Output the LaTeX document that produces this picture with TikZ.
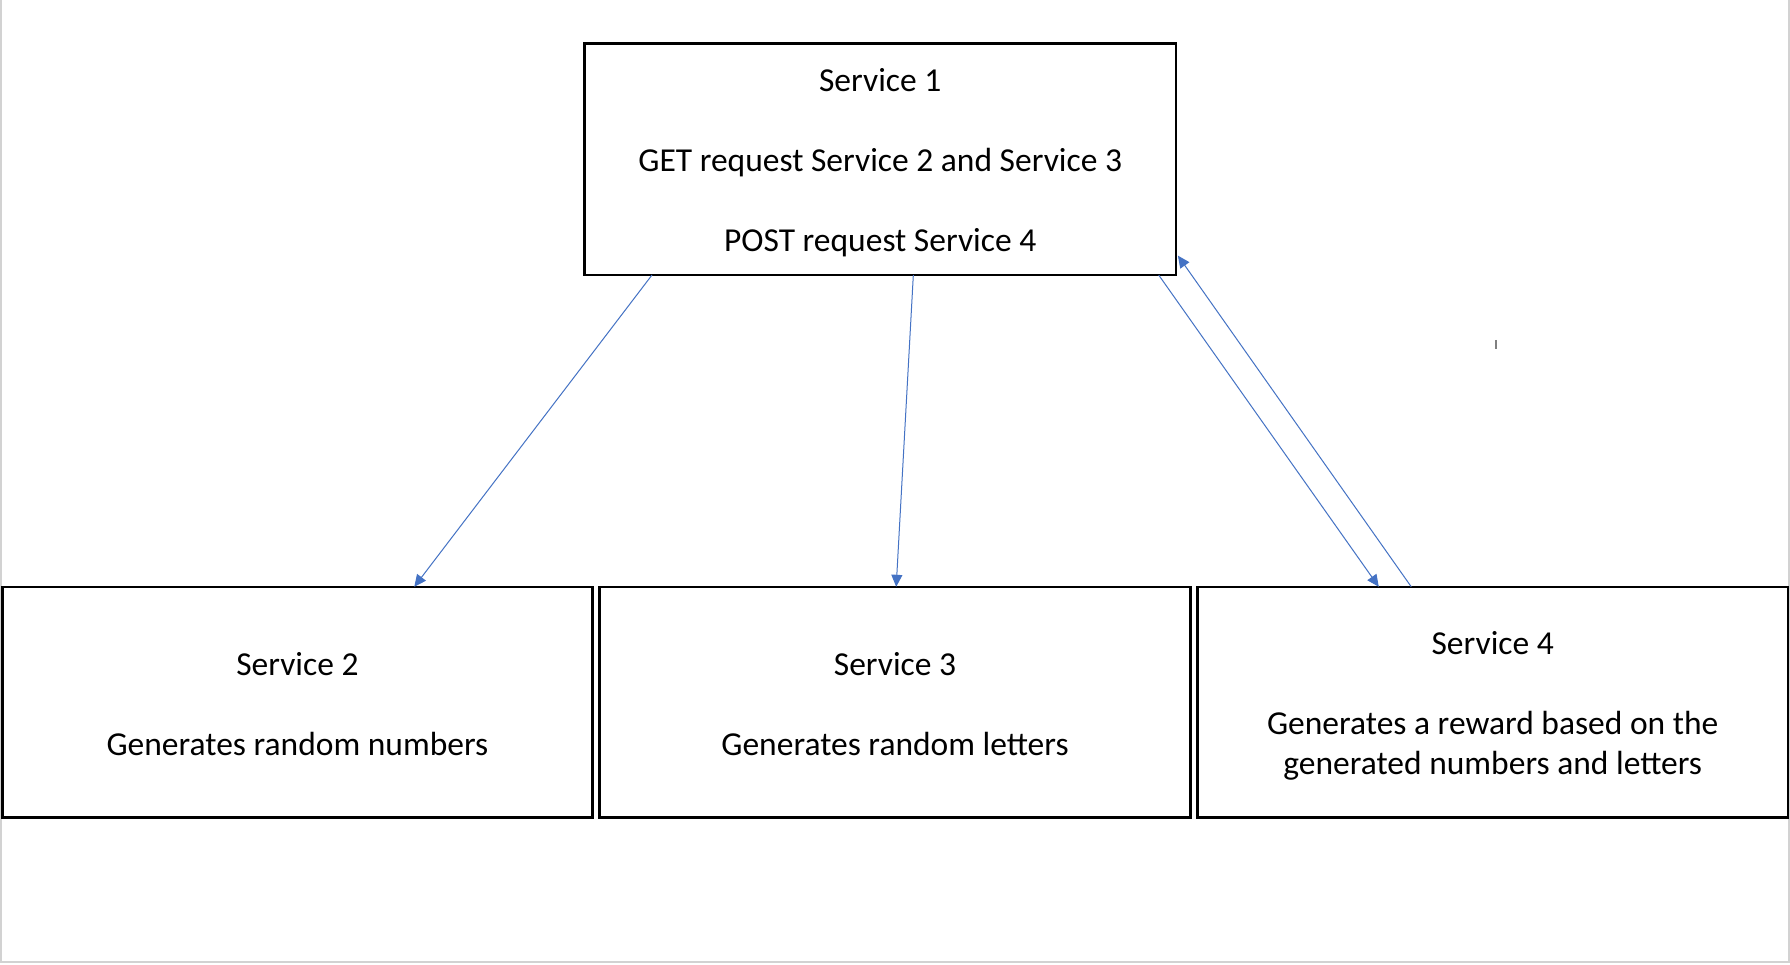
\documentclass[tikz,border=0pt]{standalone}
\usepackage{fontspec}
\setmainfont{Carlito}
\usetikzlibrary{arrows.meta,calc}
\definecolor{arrowblue}{RGB}{68,114,196}
\definecolor{framegray}{RGB}{210,210,210}
\tikzset{
  svcbox/.style={draw=black, line width=2.5pt, rectangle, inner sep=0pt, outer sep=0pt,
    minimum height=230.6pt},
  svctext/.style={align=center, inner sep=0pt, font={\fontsize{33.5}{40}\selectfont}},
  flow/.style={draw=arrowblue, line width=1pt, -{Triangle[length=12pt,width=11pt]}},
  framel/.style={draw=framegray, line width=2pt},
  cursor/.style={draw=gray, line width=1.5pt}
}
\begin{document}
\begin{tikzpicture}[x=1pt,y=-1pt]
\useasboundingbox (0,0) rectangle (1790,965);
\fill[white] (0,0) rectangle (1790,965);
\draw[framel] (1,0) -- (1,962) -- (1789,962) -- (1789,0);

\node[svcbox, minimum width=591.4pt, minimum height=231.7pt] (s1) at (880.2,159.25) {};
\node[svcbox, minimum width=590.2pt] (s2) at (297.4,702.1) {};
\node[svcbox, minimum width=591.4pt] (s3) at (895,702.1) {};
\node[svcbox, minimum width=590.3pt] (s4) at (1492.7,702.1) {};

\node[svctext] (t1) at ($(s1.center)+(0,3)$)
  {Service 1\\[40pt]GET request Service 2 and Service 3\\[40pt]POST request Service 4};
\node[svctext] (t2) at ($(s2.center)+(0,2)$)
  {Service 2\\[40pt]Generates random numbers};
\node[svctext] (t3) at ($(s3.center)+(0,2)$)
  {Service 3\\[40pt]Generates random letters};
\node[svctext] (t4) at ($(s4.center)+(0,4)$)
  {Service 4\\[40pt]Generates a reward based on the\\generated numbers and letters};

\draw[flow] ($(s1.south west)!0.114!(s1.south east)$) -- ($(s2.north west)!0.698!(s2.north east)$);
\draw[flow] ($(s1.south west)!0.556!(s1.south east)$) -- ($(s3.north west)!0.502!(s3.north east)$);
\draw[flow] ($(s1.south west)!0.971!(s1.south east)$) -- ($(s4.north west)!0.307!(s4.north east)$);
\draw[flow] ($(s4.north west)!0.362!(s4.north east)$) -- ($(s1.north east)!0.916!(s1.south east)+(2,0)$);

\coordinate (cur) at (1496,340);
\draw[cursor] (cur) -- ++(0,9);
\end{tikzpicture}
\end{document}
